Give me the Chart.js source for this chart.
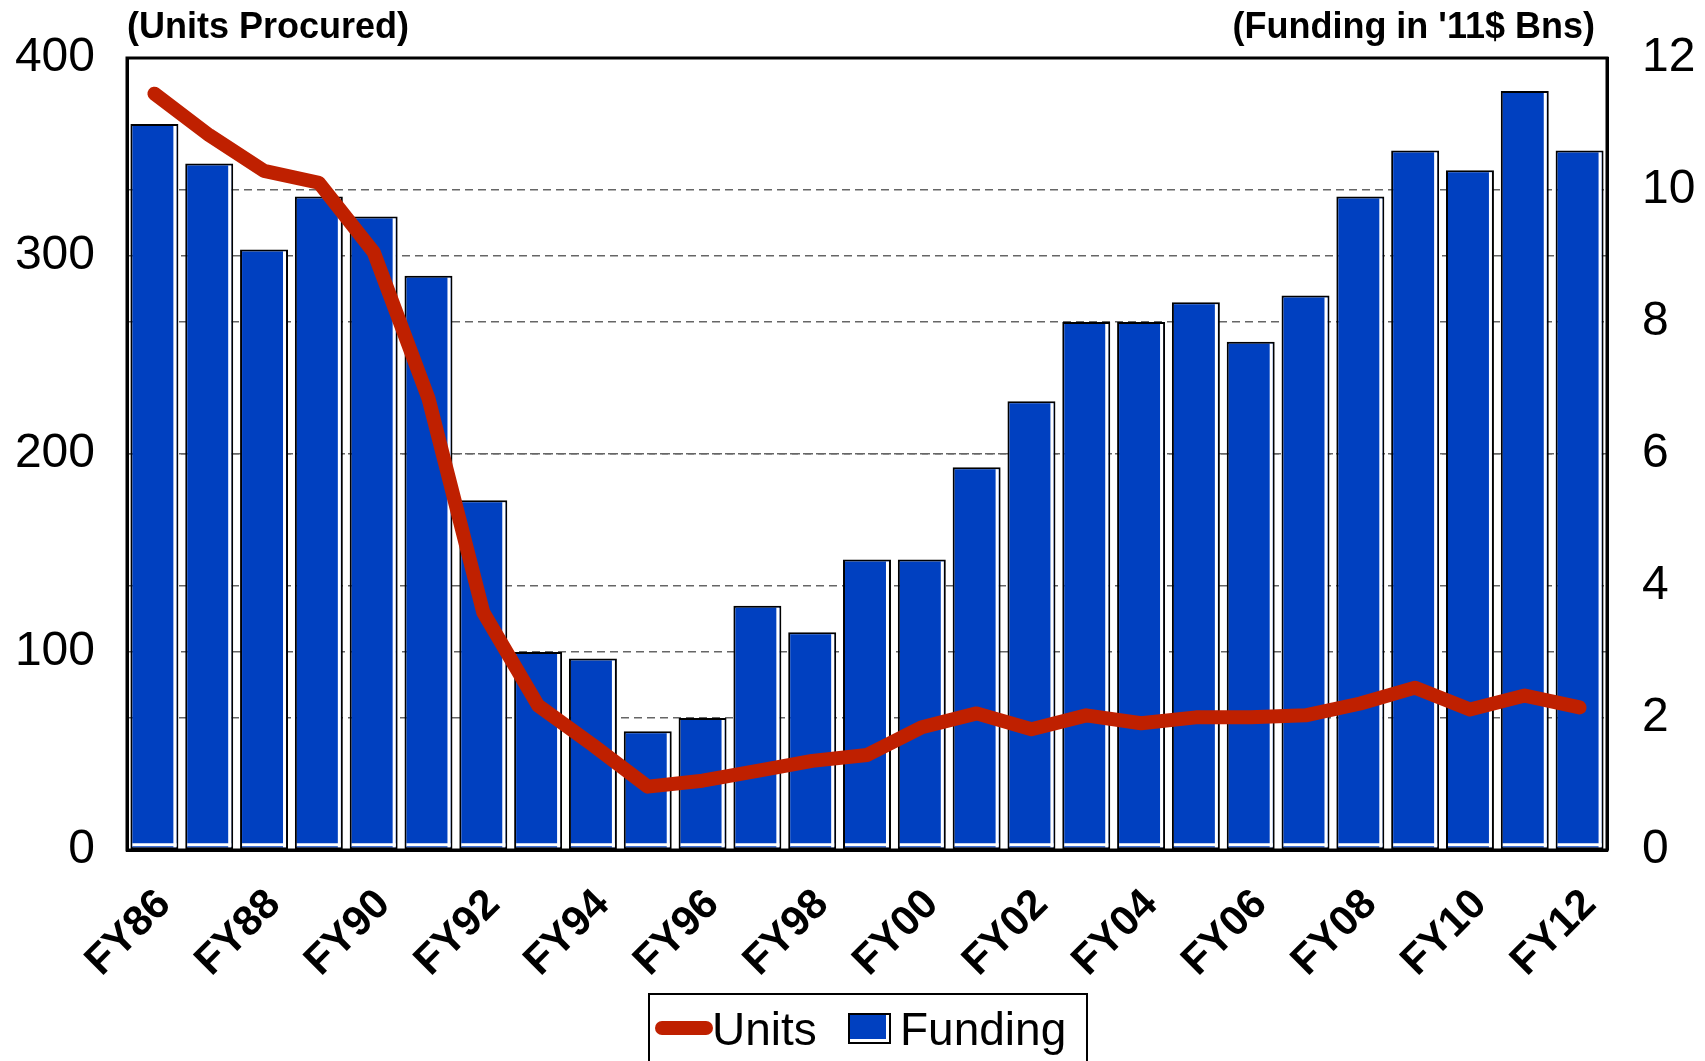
<!DOCTYPE html>
<html>
<head>
<meta charset="utf-8">
<script src="https://cdn.jsdelivr.net/npm/chart.js@4"></script>
<style>
  html, body { margin: 0; padding: 0; background: #fff; }
  canvas { display: block; }
</style>
</head>
<body>
<canvas id="chart" width="1705" height="1061"></canvas>
<script>
const years = ['FY86','FY87','FY88','FY89','FY90','FY91','FY92','FY93','FY94','FY95','FY96','FY97','FY98','FY99',
               'FY00','FY01','FY02','FY03','FY04','FY05','FY06','FY07','FY08','FY09','FY10','FY11','FY12'];
const units = [382, 361, 343, 337, 302, 228, 120, 73, 53, 32, 35, 40, 45, 48,
               62, 69, 61, 68, 64, 67, 67, 68, 74, 82, 71, 78, 72];
const funding = [11.0, 10.4, 9.1, 9.9, 9.6, 8.7, 5.3, 3.0, 2.9, 1.8, 2.0, 3.7, 3.3, 4.4,
                 4.4, 5.8, 6.8, 8.0, 8.0, 8.3, 7.7, 8.4, 9.9, 10.6, 10.3, 11.5, 10.6];
const leftTitle = '(Units Procured)';
const rightTitle = "(Funding in '11$ Bns)";

const RED = '#BF2000';
const BLUE = '#0040C0';
const FONT = '"Liberation Sans", Arial, sans-serif';

Chart.defaults.font.family = FONT;
Chart.defaults.color = '#000';

// pin the axis boxes so the plot area lands where it is in the original
function pin(size, key) {
    return s => {
        s[key] = size;
        s.paddingTop = 0;
        s.paddingBottom = 0;
    };
}

// white inner edge on bars, frame, titles and boxed legend
const decorations = {
    id: 'decorations',
    afterDatasetDraw(chart, args) {
        if (args.meta.type !== 'bar') return;
        const ctx = chart.ctx;
        ctx.save();
        ctx.fillStyle = '#fff';
        args.meta.data.forEach(bar => {
            const p = bar.getProps(['x', 'y', 'base', 'width'], true);
            const l = p.x - p.width / 2, r = p.x + p.width / 2;
            ctx.fillRect(r - 5, p.y + 2, 3, p.base - p.y - 4);
            ctx.fillRect(l + 2, p.base - 6, p.width - 4, 3);
        });
        ctx.restore();
    },
    afterDraw(chart) {
        const ctx = chart.ctx;
        const a = chart.chartArea;
        ctx.save();
        ctx.strokeStyle = '#000';
        ctx.lineWidth = 3;
        ctx.strokeRect(a.left, a.top, a.right - a.left, a.bottom - a.top);

        ctx.fillStyle = '#000';
        ctx.font = 'bold 36px ' + FONT;
        ctx.textBaseline = 'alphabetic';
        ctx.textAlign = 'left';
        ctx.fillText(leftTitle, 127, 38);
        ctx.textAlign = 'right';
        ctx.fillText(rightTitle, 1595, 38);

        // legend
        const lineDs = chart.data.datasets[0], barDs = chart.data.datasets[1];
        ctx.lineWidth = 2;
        ctx.strokeRect(649, 994, 438, 90);

        ctx.strokeStyle = lineDs.borderColor;
        ctx.lineWidth = 14;
        ctx.lineCap = 'round';
        ctx.beginPath();
        ctx.moveTo(662, 1028);
        ctx.lineTo(706, 1028);
        ctx.stroke();

        ctx.fillStyle = '#000';
        ctx.fillRect(848, 1013, 43, 31);
        ctx.fillStyle = barDs.backgroundColor;
        ctx.fillRect(850, 1015, 39, 27);
        ctx.fillStyle = '#fff';
        ctx.fillRect(886, 1015, 3, 27);
        ctx.fillRect(850, 1039, 39, 3);

        ctx.fillStyle = '#000';
        ctx.font = '46px ' + FONT;
        ctx.textAlign = 'left';
        ctx.fillText(lineDs.label, 712, 1045);
        ctx.fillText(barDs.label, 900, 1045);
        ctx.restore();
    }
};

new Chart(document.getElementById('chart'), {
    data: {
        labels: years,
        datasets: [
            {
                type: 'line',
                label: 'Units',
                data: units,
                yAxisID: 'y',
                order: 0,
                borderColor: RED,
                backgroundColor: RED,
                borderWidth: 14,
                borderCapStyle: 'round',
                borderJoinStyle: 'round',
                pointRadius: 0,
                tension: 0
            },
            {
                type: 'bar',
                label: 'Funding',
                data: funding,
                yAxisID: 'y1',
                order: 1,
                backgroundColor: BLUE,
                borderColor: '#000',
                borderWidth: 2,
                borderSkipped: false,
                barPercentage: 0.875,
                categoryPercentage: 1.0
            }
        ]
    },
    options: {
        responsive: false,
        devicePixelRatio: 1,
        animation: false,
        layout: { padding: { top: 58, left: 0, right: 0, bottom: 0 } },
        plugins: {
            legend: { display: false },
            tooltip: { enabled: false }
        },
        scales: {
            x: {
                grid: { display: false, drawTicks: false },
                border: { color: '#000', width: 3 },
                afterFit: pin(211, 'height'),
                ticks: {
                    autoSkip: false,
                    minRotation: 45,
                    maxRotation: 45,
                    padding: 30,
                    labelOffset: 10,
                    font: { size: 42, weight: 'bold' },
                    color: '#000',
                    callback(v, i) { return i % 2 === 0 ? years[i] : ''; }
                }
            },
            y: {
                position: 'left',
                min: 0,
                max: 400,
                afterFit: pin(127, 'width'),
                grid: { color: '#666', lineWidth: 1.5, drawTicks: false },
                border: { color: '#000', width: 3, dash: [8, 5] },
                ticks: { stepSize: 100, padding: 32, font: { size: 48 }, color: '#000' }
            },
            y1: {
                position: 'right',
                min: 0,
                max: 12,
                afterFit: pin(98, 'width'),
                grid: { color: '#666', lineWidth: 1.5, drawTicks: false },
                border: { color: '#000', width: 3, dash: [8, 5] },
                ticks: { stepSize: 2, padding: 35, font: { size: 48 }, color: '#000' }
            }
        }
    },
    plugins: [decorations]
});
</script>
</body>
</html>
